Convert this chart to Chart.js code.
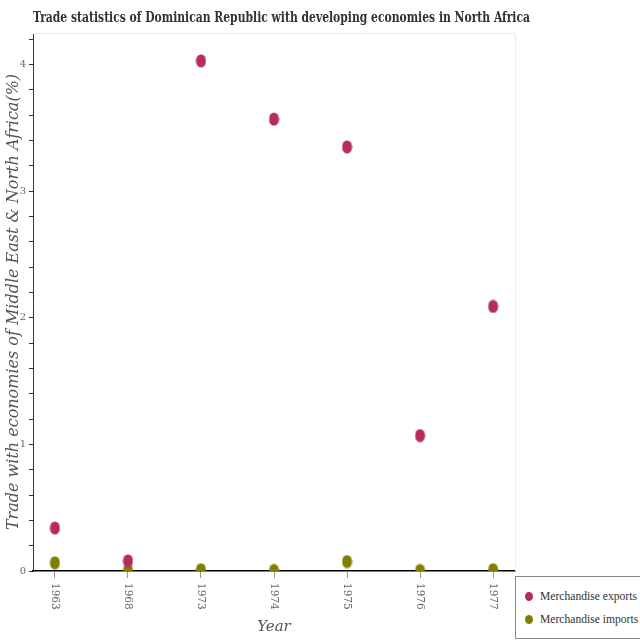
<!DOCTYPE html>
<html>
<head>
<meta charset="utf-8">
<script src="https://cdn.jsdelivr.net/npm/chart.js@4.4.1/dist/chart.umd.min.js"></script>
<style>
  html, body { margin: 0; padding: 0; background: #fff; }
  #wrap { position: relative; width: 640px; height: 640px; }
  #legend {
    position: absolute; left: 515px; top: 576px; width: 130px; height: 63px;
    border: 1px solid #8a8a8a; box-sizing: border-box; background: #fff;
    font-family: "Liberation Serif", serif; font-size: 11.6px; color: #333;
  }
  #legend .item { position: absolute; left: 9px; white-space: nowrap; }
  #legend .dot { display: inline-block; width: 8px; height: 9px; border-radius: 50%; margin-right: 7px; vertical-align: -1px; }
</style>
</head>
<body>
<div id="wrap">
  <canvas id="c" width="640" height="640"></canvas>
  <div id="legend"></div>
</div>
<script>
const years = ["1963", "1968", "1973", "1974", "1975", "1976", "1977"];
const exportsVals = [0.34, 0.08, 4.03, 3.57, 3.35, 1.07, 2.09];
const importsVals = [0.065, 0.005, 0.01, 0.004, 0.075, 0.004, 0.01];
const seriesNames = ["Merchandise exports", "Merchandise imports"];
const seriesColors = ["#b82c5c", "#808000"];
const titleText = "Trade statistics of Dominican Republic with developing economies in North Africa";
const yTitle = "Trade with economies of Middle East & North Africa(%)";
const xTitle = "Year";

function ellipseMarker(color) {
  const cv = document.createElement('canvas');
  cv.width = 11; cv.height = 14;
  const g = cv.getContext('2d');
  g.fillStyle = color;
  g.beginPath();
  g.ellipse(5.5, 7, 5, 6.6, 0, 0, Math.PI * 2);
  g.fill();
  return cv;
}

const serif = "'DejaVu Serif', serif";

const xLabelsPlugin = {
  id: 'xLabels',
  afterDraw(chart) {
    const ctx = chart.ctx;
    const xs = chart.scales.x;
    const area = chart.chartArea;
    ctx.save();
    // chart title (condensed to the reference width)
    ctx.fillStyle = '#333';
    ctx.font = "bold 14px 'DejaVu Serif Condensed', 'DejaVu Serif', serif";
    ctx.textAlign = 'left';
    ctx.textBaseline = 'middle';
    ctx.fillText(titleText, area.left, 18, 497);
    // rotated x labels
    ctx.fillStyle = '#666';
    ctx.font = "10.5px " + serif;
    years.forEach((y, i) => {
      const px = xs.getPixelForValue(i);
      ctx.save();
      ctx.translate(px, area.bottom + 12);
      ctx.rotate(Math.PI / 2);
      ctx.fillText(y, 0, 0);
      ctx.restore();
    });
    ctx.restore();
  },
  beforeDatasetsDraw(chart) {
    const ctx = chart.ctx;
    const a = chart.chartArea;
    ctx.save();
    ctx.strokeStyle = '#ebebeb';
    ctx.lineWidth = 1;
    ctx.beginPath();
    ctx.moveTo(a.left, a.top + 0.5);
    ctx.lineTo(a.right + 0.5, a.top + 0.5);
    ctx.lineTo(a.right + 0.5, a.bottom);
    ctx.stroke();
    ctx.restore();
  }
};

const data = {
  datasets: [
    {
      label: seriesNames[0],
      data: exportsVals.map((v, i) => ({ x: i, y: v })),
      backgroundColor: seriesColors[0],
      borderColor: seriesColors[0],
      pointStyle: ellipseMarker(seriesColors[0]),
      showLine: false
    },
    {
      label: seriesNames[1],
      data: importsVals.map((v, i) => ({ x: i, y: v })),
      backgroundColor: seriesColors[1],
      borderColor: seriesColors[1],
      pointStyle: ellipseMarker(seriesColors[1]),
      showLine: false
    }
  ]
};

new Chart(document.getElementById('c'), {
  type: 'scatter',
  data,
  plugins: [xLabelsPlugin],
  options: {
    responsive: false,
    animation: false,
    layout: { padding: { top: 33, right: 125, bottom: 0, left: 0 } },
    plugins: {
      legend: { display: false },
      tooltip: { enabled: false },
      title: { display: false }
    },
    scales: {
      x: {
        type: 'linear',
        min: -0.3,
        max: 6.3,
        afterBuildTicks(scale) { scale.ticks = years.map((y, i) => ({ value: i })); },
        afterFit(scale) { scale.height = 69; },
        border: { display: true, color: '#000', width: 1.5 },
        grid: { display: true, drawOnChartArea: false, drawTicks: true, tickLength: 7, color: '#999' },
        ticks: { display: true, color: 'rgba(0,0,0,0)', font: { size: 10 }, maxRotation: 0, minRotation: 0, callback: (v) => years[v] || '' },
        title: {
          display: true, text: xTitle, color: '#555',
          font: { family: serif, size: 15, style: 'italic' },
          padding: { top: 0, bottom: 4 }
        }
      },
      y: {
        min: 0,
        max: 4.25,
        afterFit(scale) { scale.width = 33; },
        afterBuildTicks(scale) {
          const t = [];
          for (let k = 0; k <= 21; k++) t.push({ value: Math.round(k * 0.2 * 10) / 10 });
          scale.ticks = t;
        },
        border: { display: true, color: '#333', width: 1 },
        grid: { display: true, drawOnChartArea: false, drawTicks: true, tickLength: 4, color: '#333' },
        ticks: {
          color: '#666', padding: 3,
          font: { family: serif, size: 10 },
          callback: (v) => (Math.abs(v - Math.round(v)) < 1e-6 ? String(Math.round(v)) : '')
        },
        title: {
          display: true, text: yTitle, color: '#555',
          font: { family: serif, size: 16, style: 'italic' },
          padding: { top: 4, bottom: 0 }
        }
      }
    }
  }
});

const leg = document.getElementById('legend');
seriesNames.forEach((n, i) => {
  const d = document.createElement('div');
  d.className = 'item';
  d.style.top = (i === 0 ? 13 : 36) + 'px';
  d.innerHTML = '<span class="dot" style="background:' + seriesColors[i] + '"></span>';
  d.appendChild(document.createTextNode(n));
  leg.appendChild(d);
});
</script>
</body>
</html>
